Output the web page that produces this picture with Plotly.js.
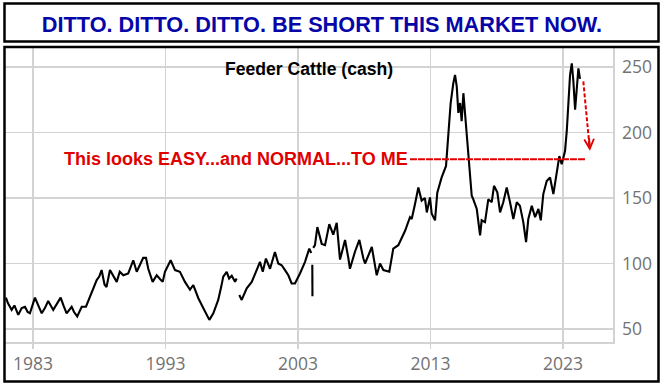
<!DOCTYPE html>
<html>
<head>
<meta charset="utf-8">
<script src="https://cdn.plot.ly/plotly-3.0.1.min.js"></script>
<style>html,body{margin:0;padding:0;background:#fff;}#chart{width:663px;height:386px;}</style>
</head>
<body>
<div id="chart"></div>
<script>
// ---- Data ----
const years = [
1980.96,1981.10,1981.39,1981.60,1981.89,1982.15,1982.40,1982.60,1982.77,1983.15,
1983.40,1983.66,1983.90,1984.15,1984.53,1984.80,1985.09,1985.30,1985.54,1985.92,
1986.10,1986.34,1986.68,1987.00,1987.20,1987.43,1987.81,1988.00,1988.18,1988.40,
1988.55,1988.81,1989.10,1989.32,1989.55,1989.82,1990.19,1990.57,1990.83,1991.10,
1991.32,1991.53,1991.70,1992.03,1992.34,1992.60,1992.79,1992.96,1993.20,1993.39,
1993.72,1994.09,1994.47,1994.85,1995.10,1995.48,1995.85,1996.10,1996.31,1996.61,
1996.98,1997.20,1997.36,1997.62,1997.80,1998.00,1998.25,1998.37,1998.47,1998.57,
1998.75,1999.13,1999.51,1999.88,2000.13,2000.34,2000.58,2000.89,2001.26,2001.51,
2001.77,2002.02,2002.27,2002.52,2002.77,2003.15,2003.53,2003.85,2004.00,2004.04,
2004.08,2004.09,2004.11,2004.15,2004.28,2004.46,2004.79,2005.04,2005.36,2005.66,
2005.92,2006.17,2006.55,2006.80,2006.92,2007.30,2007.63,2007.93,2008.06,2008.57,
2008.94,2009.19,2009.44,2009.89,2010.19,2010.57,2010.83,2011.08,2011.45,2011.58,
2011.83,2012.08,2012.33,2012.58,2012.72,2012.96,2013.09,2013.34,2013.51,2013.84,
2014.17,2014.34,2014.52,2014.72,2014.85,2014.98,2015.10,2015.23,2015.35,2015.48,
2015.60,2015.73,2015.85,2015.98,2016.11,2016.23,2016.49,2016.74,2016.86,2017.11,
2017.36,2017.62,2017.79,2018.04,2018.25,2018.49,2018.75,2019.00,2019.25,2019.51,
2019.75,2020.00,2020.21,2020.38,2020.64,2020.89,2021.14,2021.32,2021.51,2021.77,
2022.02,2022.27,2022.52,2022.72,2022.90,2023.15,2023.28,2023.40,2023.53,2023.66,
2023.78,2023.91,2024.04,2024.16,2024.28
];
const prices = [
74,70,64.6,68,60.8,66,67,63,62,74,
68,62,66,71.4,64.6,69,74,68,62,67,
63,59.6,67,67,72,78.5,87.4,90,95,84,
82,95,90,86,93.7,91,92.4,102.5,93.7,100,
104.3,104.3,96,86,91,88,86,93.7,98,102.5,
95,93.7,86,80,83.6,73.5,66,61,57,62,
72.2,82,90,93.7,88.6,90.7,86,88.6,null,76,
72.2,81,86,95,101.3,93.7,103.8,96,108.8,100,
98.7,95,91,84.8,84.8,92.4,101.3,111.4,108,null,
99,75,null,112,114,127.8,115,114,130,122,
131,103,118,104,96,109,118,104,100,112.6,
91,100,95,93.7,111.4,114,120,125,135.4,134,
145.5,158,148,150,139,150.5,138,133,154,165.7,
174.5,194.7,222.5,237.6,244,235,215,222.5,208.6,230,
215,197,179.5,164.4,151.7,149,141.6,121.4,133,131.6,
149,146.8,159.3,154.3,139,146.8,158,146.8,134,146.8,
144,131.6,116.4,134,144,135.4,141.6,133,153,163,
165.7,153,169.5,182,175.8,185.8,201,221,244,252.8,
239,217.4,236,249,241
];
const xTickVals = [1983, 1993, 2003, 2013, 2023];
const xTickText = ['1983', '1993', '2003', '2013', '2023'];
const yTickVals = [50, 100, 150, 200, 250];
const yTickText = ['50', '100', '150', '200', '250'];

const chartTitle = 'DITTO. DITTO. DITTO. BE SHORT THIS MARKET NOW.';
const seriesLabel = 'Feeder Cattle (cash)';
const noteText = 'This looks EASY...and NORMAL...TO ME';
const normalLevel = 179.5;
const lineStartYear = 2011.45, lineEndYear = 2024.66;
const arrowFrom = [2024.53, 239];
const arrowTo = [2025.03, 186];

// ---- Layout geometry ----
const W = 663, H = 386;
const M = {l: 5, r: 50, t: 48, b: 44};
const pw = W - M.l - M.r, ph = H - M.t - M.b;
const px = x => (x - M.l) / pw;
const py = y => (H - M.b - y) / ph;

const gridC = '#d3d3d3';
const tickFont = {family: 'Open Sans, sans-serif', size: 17.5, color: '#727272'};
const boldFont = 'Liberation Sans, Arial, sans-serif';

const trace = {
  x: years, y: prices, type: 'scatter', mode: 'lines',
  line: {color: '#000000', width: 2.1},
  connectgaps: false, hoverinfo: 'skip', showlegend: false
};

const layout = {
  width: W, height: H,
  margin: M,
  paper_bgcolor: '#ffffff', plot_bgcolor: '#ffffff',
  showlegend: false,
  title: {
    text: '<b>' + chartTitle + '</b>',
    font: {family: boldFont, size: 21.7, color: '#0606a8'},
    xref: 'container', yref: 'container',
    x: 322 / W, xanchor: 'center', y: 1 - 24 / H, yanchor: 'middle'
  },
  xaxis: {
    range: [1980.89, 2026.77],
    tickmode: 'array', tickvals: xTickVals, ticktext: xTickText,
    showgrid: true, gridcolor: gridC, gridwidth: 1.5,
    showline: true, linecolor: gridC, linewidth: 1.5,
    ticks: 'outside', ticklen: 5, tickcolor: gridC, tickwidth: 1.5,
    tickfont: tickFont, zeroline: false, fixedrange: true
  },
  yaxis: {
    side: 'right',
    range: [40.1, 264.5],
    tickmode: 'array', tickvals: yTickVals, ticktext: yTickText,
    showgrid: true, gridcolor: gridC, gridwidth: 1.5,
    showline: true, linecolor: gridC, linewidth: 1.5,
    ticks: '', ticklabelstandoff: 4,
    tickfont: tickFont, zeroline: false, fixedrange: true
  },
  shapes: [
    // title box
    {type: 'rect', xref: 'paper', yref: 'paper',
     x0: px(4.5), x1: px(658.5), y0: py(41.5), y1: py(3.5),
     line: {color: '#000', width: 2.5}, fillcolor: 'rgba(0,0,0,0)', layer: 'above'},
    // chart box
    {type: 'rect', xref: 'paper', yref: 'paper',
     x0: px(4.5), x1: px(658.5), y0: py(381.5), y1: py(47),
     line: {color: '#000', width: 2.5}, fillcolor: 'rgba(0,0,0,0)', layer: 'above'},
    // "normal" level line
    {type: 'line', xref: 'x', yref: 'y',
     x0: lineStartYear, x1: lineEndYear, y0: normalLevel, y1: normalLevel,
     line: {color: '#e00000', width: 2, dash: '7px,1px'}, layer: 'above'},
    // arrow shaft
    {type: 'line', xref: 'x', yref: 'y',
     x0: arrowFrom[0], y0: arrowFrom[1], x1: arrowTo[0] - 0.02, y1: arrowTo[1] + 2,
     line: {color: '#e00000', width: 2, dash: '4px,2px'}, layer: 'above'}
  ],
  annotations: [
    {text: '<b>' + seriesLabel + '</b>', xref: 'paper', yref: 'paper',
     x: px(309), y: py(69), xanchor: 'center', yanchor: 'middle', showarrow: false,
     font: {family: boldFont, size: 17.6, color: '#000'}},
    {text: '<b>' + noteText + '</b>', xref: 'paper', yref: 'paper',
     x: px(410), y: py(158.5), xanchor: 'right', yanchor: 'middle', showarrow: false,
     font: {family: boldFont, size: 18, color: '#e00000'}},
    {text: '', xref: 'x', yref: 'y', x: arrowTo[0], y: arrowTo[1],
     showarrow: true, arrowhead: 5, arrowsize: 0.95, arrowwidth: 2, arrowcolor: '#e00000',
     ax: -1, ay: -14, standoff: 0}
  ]
};

Plotly.newPlot('chart', [trace], layout, {displayModeBar: false, staticPlot: true});
</script>
</body>
</html>
